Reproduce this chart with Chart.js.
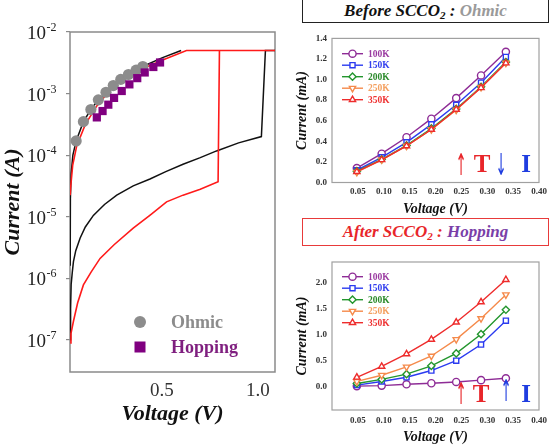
<!DOCTYPE html>
<html>
<head>
<meta charset="utf-8">
<script src="https://cdn.jsdelivr.net/npm/chart.js@4.4.1/dist/chart.umd.min.js"></script>
<style>
  html, body { margin: 0; padding: 0; background: #fff; }
  #wrap { position: relative; width: 556px; height: 446px; overflow: hidden; font-family: "Liberation Serif", "DejaVu Serif", serif; }
  canvas { position: absolute; }
  #cMain { left: 0; top: 0; }
  #cBefore { left: 290px; top: 28px; }
  #cAfter { left: 290px; top: 250px; }
  .box { position: absolute; left: 302px; width: 247px; box-sizing: border-box; text-align: center;
         font-weight: bold; font-style: italic; font-size: 17px; white-space: nowrap; }
  .box sub { font-size: 11px; vertical-align: -3px; line-height: 0; }
  #boxBefore { top: -2px; height: 25px; line-height: 24px; border: 1.5px solid #222; color: #111; }
  #boxAfter { top: 218px; height: 28px; line-height: 25px; border: 1.5px solid #e83a3a; color: #e8262a; }
  .mark { position: absolute; transform: translate(-50%, -50%); line-height: 1; font-weight: bold; white-space: nowrap; }
  .arrow { font-family: "DejaVu Sans", sans-serif; font-weight: normal; font-size: 24px; transform: translate(-50%, -50%) scale(0.55, 1.25); }
</style>
</head>
<body>
<div id="wrap">
  <canvas id="cMain" width="290" height="446"></canvas>
  <canvas id="cBefore" width="266" height="190"></canvas>
  <canvas id="cAfter" width="266" height="196"></canvas>

  <div class="box" id="boxBefore">Before SCCO<sub>2</sub> : <span style="color:#9a9a9a">Ohmic</span></div>
  <div class="box" id="boxAfter">After SCCO<sub>2</sub> : <span style="color:#7a3fa8">Hopping</span></div>

  <div class="mark arrow" style="left:461px;top:165px;color:#e8262a">↑</div>
  <div class="mark" style="left:482px;top:163px;font-size:25px;color:#e8262a">T</div>
  <div class="mark arrow" style="left:501px;top:165px;color:#1f3de0">↓</div>
  <div class="mark" style="left:526px;top:163px;font-size:25px;color:#1f3de0">I</div>

  <div class="mark arrow" style="left:461px;top:394px;color:#e8262a">↑</div>
  <div class="mark" style="left:481px;top:393px;font-size:25px;color:#e8262a">T</div>
  <div class="mark arrow" style="left:506px;top:391px;color:#1f3de0">↑</div>
  <div class="mark" style="left:526px;top:393px;font-size:25px;color:#1f3de0">I</div>
</div>

<script>
  // ---- main I-V plot (log current) ----
  const blackSetVolt = [0.021, 0.023, 0.026, 0.032, 0.038, 0.05, 0.073, 0.1, 0.142, 0.2, 0.264, 0.35, 0.4375, 0.52, 0.61, 0.70, 0.785, 0.9, 1.019, 1.04, 1.09];
  const blackSetCur = [1.0e-7, 3.2e-7, 7.9e-7, 1.26e-6, 1.86e-6, 2.8e-6, 4.5e-6, 6.8e-6, 1.05e-5, 1.58e-5, 2.24e-5, 3.16e-5, 4.1e-5, 5.4e-5, 7.1e-5, 9.1e-5, 1.17e-4, 1.58e-4, 2.0e-4, 5.0e-3, 5.0e-3];

  const blackResetVolt = [0.6, 0.5, 0.40, 0.325, 0.246, 0.168, 0.129, 0.09, 0.052, 0.035, 0.026, 0.022, 0.021];
  const blackResetCur = [5.0e-3, 3.8e-3, 2.75e-3, 2.04e-3, 1.35e-3, 7.9e-4, 5.5e-4, 3.5e-4, 1.7e-4, 1.0e-4, 5.0e-5, 2.0e-5, 1.6e-6];

  const redVolt = [0.021, 0.025, 0.038, 0.06, 0.09, 0.13, 0.177, 0.25, 0.35, 0.44, 0.524, 0.61, 0.70, 0.793, 0.80, 1.09, 0.628, 0.507, 0.368, 0.246, 0.16, 0.10, 0.055, 0.034, 0.024, 0.021];
  const redCur = [8.9e-8, 1.26e-7, 2.0e-7, 4.0e-7, 7.8e-7, 1.26e-6, 2.1e-6, 3.5e-6, 6.5e-6, 1.07e-5, 1.74e-5, 2.24e-5, 2.8e-5, 3.7e-5, 5.0e-3, 5.0e-3, 5.0e-3, 3.55e-3, 2.3e-3, 1.32e-3, 6.3e-4, 3.16e-4, 1.41e-4, 6.8e-5, 3.16e-5, 2.24e-5];

  const ohmicVolt = [0.052, 0.09, 0.129, 0.168, 0.208, 0.246, 0.285, 0.325, 0.365, 0.40];
  const ohmicCur = [1.7e-4, 3.5e-4, 5.5e-4, 7.9e-4, 1.05e-3, 1.35e-3, 1.7e-3, 2.04e-3, 2.4e-3, 2.75e-3];

  const hoppingVolt = [0.16, 0.19, 0.22, 0.25, 0.29, 0.33, 0.371, 0.41, 0.455, 0.49];
  const hoppingCur = [4.1e-4, 5.2e-4, 6.6e-4, 8.5e-4, 1.1e-3, 1.41e-3, 1.78e-3, 2.2e-3, 2.7e-3, 3.2e-3];

  const mainYTicks = [1e-7, 1e-6, 1e-5, 1e-4, 1e-3, 1e-2];
  const mainXTicks = [0.5, 1.0];

  // ---- temperature insets (mA) ----
  const voltSteps = [0.048, 0.096, 0.144, 0.192, 0.240, 0.288, 0.336];
  const tempLabels = ["100K", "150K", "200K", "250K", "350K"];

  const before100K = [0.14, 0.28, 0.44, 0.62, 0.82, 1.04, 1.27];
  const before150K = [0.12, 0.245, 0.39, 0.565, 0.755, 0.97, 1.22];
  const before200K = [0.11, 0.225, 0.36, 0.525, 0.715, 0.93, 1.17];
  const before250K = [0.10, 0.22, 0.355, 0.515, 0.705, 0.925, 1.16];
  const before350K = [0.105, 0.22, 0.355, 0.515, 0.71, 0.92, 1.16];

  const after100K = [0.01, 0.02, 0.045, 0.065, 0.09, 0.125, 0.16];
  const after150K = [0.03, 0.10, 0.18, 0.31, 0.50, 0.81, 1.27];
  const after200K = [0.06, 0.14, 0.24, 0.40, 0.64, 1.01, 1.48];
  const after250K = [0.10, 0.22, 0.38, 0.59, 0.91, 1.31, 1.77];
  const after350K = [0.18, 0.39, 0.63, 0.91, 1.24, 1.63, 2.06];

  const insetXTicks = [0.05, 0.10, 0.15, 0.20, 0.25, 0.30, 0.35, 0.40];
  const beforeYTicks = [0, 0.2, 0.4, 0.6, 0.8, 1.0, 1.2, 1.4];
  const afterYTicks = [0, 0.5, 1.0, 1.5, 2.0];

  const SERIF = '"Liberation Serif", "DejaVu Serif", serif';
  const tempColors = ["#8e2c96", "#2b3bf0", "#23962e", "#f58a4b", "#ee2c2c"];
  const tempTextColors = ["#9a3aa0", "#3340ee", "#2a8a2a", "#f4a060", "#ee3333"];
  const tempStyles = [
    { style: "circle", rot: 0 },
    { style: "rect", rot: 0 },
    { style: "rectRot", rot: 0 },
    { style: "triangle", rot: 180 },
    { style: "triangle", rot: 0 }
  ];

  function pairs(xs, ys) {
    return xs.map((x, i) => ({ x: x, y: ys[i] }));
  }

  const framePlugin = {
    id: "frame",
    beforeDatasetsDraw(chart, args, opts) {
      const a = chart.chartArea;
      const ctx = chart.ctx;
      ctx.save();
      ctx.strokeStyle = opts.color;
      ctx.lineWidth = opts.width;
      ctx.strokeRect(a.left, a.top, a.right - a.left, a.bottom - a.top);
      ctx.restore();
    }
  };

  // y labels of the log plot as 10 with a raised exponent
  const powerLabels = {
    id: "powerLabels",
    afterDraw(chart) {
      const scale = chart.scales.y;
      const ctx = chart.ctx;
      ctx.save();
      ctx.fillStyle = "#222";
      ctx.textBaseline = "alphabetic";
      ctx.textAlign = "left";
      scale.ticks.forEach(function (t) {
        const py = scale.getPixelForValue(t.value);
        const exp = String(Math.round(Math.log10(t.value)));
        ctx.font = "19px " + SERIF;
        const baseW = ctx.measureText("10").width;
        ctx.font = "12px " + SERIF;
        const expW = ctx.measureText(exp).width;
        const x0 = scale.right - 14 - baseW - expW;
        ctx.font = "19px " + SERIF;
        ctx.fillText("10", x0, py + 7);
        ctx.font = "12px " + SERIF;
        ctx.fillText(exp, x0 + baseW + 0.5, py - 1);
      });
      ctx.restore();
    }
  };

  const mainLegend = {
    id: "mainLegend",
    afterDraw(chart) {
      const ctx = chart.ctx;
      ctx.save();
      ctx.fillStyle = "#8c8c8c";
      ctx.beginPath();
      ctx.arc(140, 322, 6, 0, Math.PI * 2);
      ctx.fill();
      ctx.fillStyle = "#800080";
      ctx.fillRect(134.5, 341.5, 11, 11);
      ctx.font = "bold 18px " + SERIF;
      ctx.textBaseline = "middle";
      ctx.fillStyle = "#8c8c8c";
      ctx.fillText("Ohmic", 171, 323);
      ctx.fillStyle = "#7f1f7f";
      ctx.fillText("Hopping", 171, 348);
      ctx.restore();
    }
  };

  const tempLegend = {
    id: "tempLegend",
    afterDraw(chart, args, opts) {
      const ctx = chart.ctx;
      const a = chart.chartArea;
      tempLabels.forEach(function (label, i) {
        const y = a.top + opts.top + i * opts.gap;
        const x1 = a.left + 10;
        const x2 = a.left + 31;
        ctx.save();
        ctx.strokeStyle = tempColors[i];
        ctx.lineWidth = 1.4;
        ctx.beginPath();
        ctx.moveTo(x1, y);
        ctx.lineTo(x2, y);
        ctx.stroke();
        ctx.fillStyle = "#fff";
        Chart.helpers.drawPoint(ctx, { pointStyle: tempStyles[i].style, rotation: tempStyles[i].rot, radius: 3.6, borderWidth: 1.4 }, (x1 + x2) / 2, y);
        ctx.font = "bold 9.5px " + SERIF;
        ctx.textBaseline = "middle";
        ctx.fillStyle = tempTextColors[i];
        ctx.fillText(label, a.left + 36, y + 0.5);
        ctx.restore();
      });
    }
  };

  new Chart(document.getElementById("cMain"), {
    type: "scatter",
    data: {
      datasets: [
        { data: pairs(hoppingVolt, hoppingCur), pointStyle: "rect", pointRadius: 5.8, backgroundColor: "#800080", borderColor: "#800080", borderWidth: 0, showLine: false },
        { data: pairs(ohmicVolt, ohmicCur), pointStyle: "circle", pointRadius: 5.6, backgroundColor: "#8c8c8c", borderColor: "#8c8c8c", borderWidth: 0, showLine: false },
        { data: pairs(redVolt, redCur), showLine: true, pointRadius: 0, borderColor: "#ff1a1a", borderWidth: 1.6, tension: 0 },
        { data: pairs(blackResetVolt, blackResetCur), showLine: true, pointRadius: 0, borderColor: "#111", borderWidth: 1.5, tension: 0 },
        { data: pairs(blackSetVolt, blackSetCur), showLine: true, pointRadius: 0, borderColor: "#111", borderWidth: 1.5, tension: 0 }
      ]
    },
    options: {
      responsive: false,
      animation: false,
      layout: { padding: { left: 0, top: 32, right: 15, bottom: 0 } },
      plugins: { legend: { display: false }, tooltip: { enabled: false }, frame: { color: "#8a8a8a", width: 1.5 } },
      scales: {
        x: {
          type: "linear",
          min: 0.02,
          max: 1.09,
          afterBuildTicks: function (scale) { scale.ticks = mainXTicks.map(v => ({ value: v })); },
          afterFit: function (scale) { scale.height = 74; },
          ticks: { callback: v => v.toFixed(1), font: { family: SERIF, size: 19 }, color: "#333", padding: 8, maxRotation: 0 },
          grid: { display: false, drawTicks: false },
          border: { display: false },
          title: { display: true, text: "Voltage (V)", font: { family: SERIF, size: 22, weight: "bold", style: "italic" }, color: "#111", padding: { top: 0, bottom: 18 } }
        },
        y: {
          type: "logarithmic",
          min: 3.16e-8,
          max: 1e-2,
          afterBuildTicks: function (scale) { scale.ticks = mainYTicks.map(v => ({ value: v })); },
          afterFit: function (scale) { scale.width = 70; },
          ticks: { callback: () => "", padding: 0 },
          grid: { display: true, drawOnChartArea: false, drawTicks: true, tickLength: 4, color: "#8a8a8a", lineWidth: 1.2 },
          border: { display: false },
          title: { display: true, text: "Current (A)", font: { family: SERIF, size: 22, weight: "bold", style: "italic" }, color: "#111", padding: { top: 0, bottom: 0 } }
        }
      }
    },
    plugins: [framePlugin, powerLabels, mainLegend]
  });

  function insetChart(id, series, yMin, yMax, yTicks, xPad, xHeight, padTop, legendTop) {
    const datasets = series.map(function (vals, i) {
      return {
        label: tempLabels[i],
        data: pairs(voltSteps, vals),
        showLine: true,
        borderColor: tempColors[i],
        backgroundColor: "#fff",
        borderWidth: 1.4,
        pointStyle: tempStyles[i].style,
        pointRotation: tempStyles[i].rot,
        pointRadius: 3.6,
        pointBorderWidth: 1.4,
        order: 5 - i
      };
    });
    return new Chart(document.getElementById(id), {
      type: "scatter",
      data: { datasets: datasets },
      options: {
        responsive: false,
        animation: false,
        layout: { padding: { left: 0, top: padTop, right: 17, bottom: 0 } },
        plugins: {
          legend: { display: false },
          tooltip: { enabled: false },
          frame: { color: "#a0a0a0", width: 1.2 },
          tempLegend: { top: legendTop, gap: 11.5 }
        },
        scales: {
          x: {
            type: "linear",
            min: 0,
            max: 0.4,
            afterBuildTicks: function (scale) { scale.ticks = insetXTicks.map(v => ({ value: v })); },
            afterFit: function (scale) { scale.height = xHeight; },
            ticks: { callback: v => v.toFixed(2), font: { family: SERIF, size: 9, weight: "bold" }, color: "#333", padding: xPad, maxRotation: 0 },
            grid: { display: false, drawTicks: false },
            border: { display: false },
            title: { display: true, text: "Voltage (V)", font: { family: SERIF, size: 14, weight: "bold", style: "italic" }, color: "#111", padding: { top: 0, bottom: 0 } }
          },
          y: {
            type: "linear",
            min: yMin,
            max: yMax,
            afterBuildTicks: function (scale) { scale.ticks = yTicks.map(v => ({ value: v })); },
            afterFit: function (scale) { scale.width = 42; },
            ticks: { callback: v => v.toFixed(1), font: { family: SERIF, size: 9, weight: "bold" }, color: "#333", padding: 5 },
            grid: { display: false, drawTicks: false },
            border: { display: false },
            title: { display: true, text: "Current (mA)", font: { family: SERIF, size: 14, weight: "bold", style: "italic" }, color: "#111", padding: { top: 4, bottom: 0 } }
          }
        }
      },
      plugins: [framePlugin, tempLegend]
    });
  }

  insetChart("cBefore", [before100K, before150K, before200K, before250K, before350K], 0, 1.4, beforeYTicks, 4, 35.5, 6, 15.3);
  insetChart("cAfter", [after100K, after150K, after200K, after250K, after350K], -0.45, 2.4, afterYTicks, 5, 36, 12, 14.7);
</script>
</body>
</html>
